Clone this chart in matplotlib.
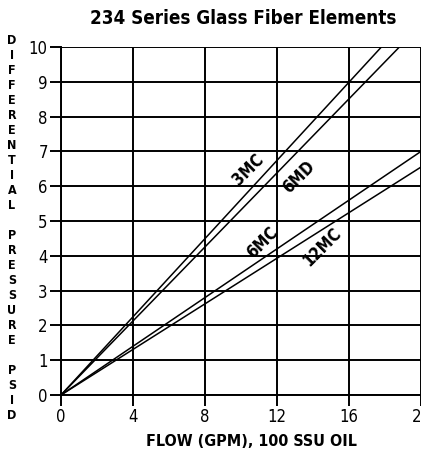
import matplotlib
matplotlib.use("Agg")
import matplotlib.pyplot as plt

# flow (GPM) where each curve reaches a given differential pressure (psid)
SERIES = ["3MC", "6MD", "6MC", "12MC"]
FLOW = {
    "3MC":  [0, 17.8],
    "6MD":  [0, 18.8],
    "6MC":  [0, 20.0],
    "12MC": [0, 20.0],
}
DP = {
    "3MC":  [0, 10.0],
    "6MD":  [0, 10.0],
    "6MC":  [0, 7.0],
    "12MC": [0, 6.55],
}
# label anchor (flow, psid) for each curve
LABEL_POS = {
    "3MC":  (10.4, 6.47),
    "6MD":  (13.2, 6.26),
    "6MC":  (11.2, 4.37),
    "12MC": (14.5, 4.25),
}
X_TICKS = [0, 4, 8, 12, 16, 20]
Y_TICKS = list(range(0, 11))

TITLE = "234 Series Glass Fiber Elements"
XLABEL = "FLOW (GPM), 100 SSU OIL"
YLABEL = ["DIFFERENTIAL", "PRESSURE", "PSID"]

plt.rcParams["font.family"] = ["DejaVu Sans"]
plt.rcParams["font.stretch"] = "condensed"

fig = plt.figure(figsize=(4.21, 4.58), dpi=100)
ax = fig.add_axes([61 / 421, 1 - 395 / 458, 360 / 421, 348 / 458])

for name in SERIES:
    ax.plot(FLOW[name], DP[name], color="black", lw=1.1, solid_capstyle="butt")
    lx, ly = LABEL_POS[name]
    ax.text(lx, ly, name, rotation=45, ha="center", va="center",
            fontsize=12, fontweight="bold")

ax.set_xlim(0, 20)
ax.set_ylim(0, 10)
ax.set_xticks(X_TICKS)
ax.set_yticks(Y_TICKS)
ax.grid(True, color="black", lw=1.4)
ax.set_axisbelow(True)
ax.tick_params(direction="out", length=8, width=1.4, labelsize=12, pad=1.5)
for side in ["top", "right"]:
    ax.spines[side].set_visible(False)
for side in ["left", "bottom"]:
    ax.spines[side].set_linewidth(1.4)

fig.text(243 / 421, 1 - 18 / 458, TITLE, ha="center", va="center",
         fontsize=13.5, fontweight="bold")
fig.text(252 / 421, 1 - 442 / 458, XLABEL, ha="center", va="center",
         fontsize=11.5, fontweight="bold")
fig.text(12 / 421, 1 - 228 / 458, "\n\n".join("\n".join(w) for w in YLABEL),
         ha="center", va="center", fontsize=9, fontweight="bold",
         linespacing=1.2)

fig.savefig("out.png", dpi=100)
